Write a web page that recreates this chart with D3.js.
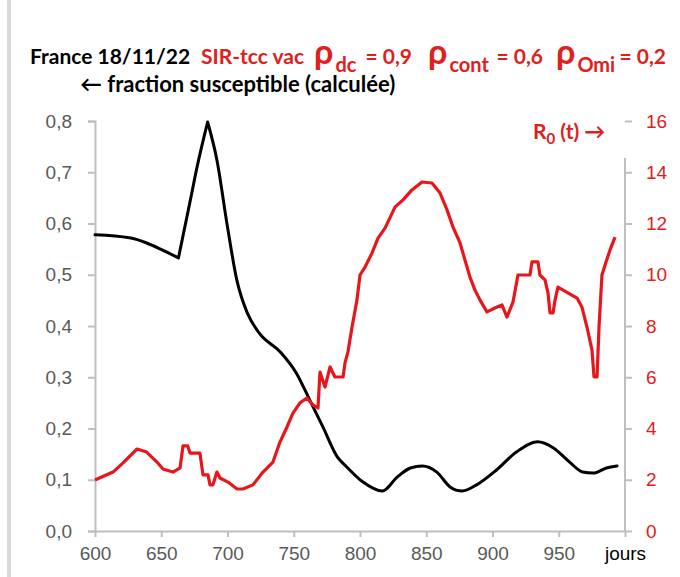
<!DOCTYPE html>
<html>
<head>
<meta charset="utf-8">
<style>
    body { margin: 0; background: #fff; }
    svg { display: block; font-family: Lato, 'Liberation Sans', sans-serif; }
    .axis .domain { stroke: #bfbfbf; stroke-width: 2px; }
    .axis .tick line { stroke: #bfbfbf; stroke-width: 2px; }
    .axis text { font-size: 19px; fill: #595959; }
    .r.axis text { fill: #e0201c; }
</style>
</head>
<body>
<svg class="chart" width="680" height="577"></svg>

<script src="https://d3js.org/d3.v7.min.js"></script>
<script>
    // fraction susceptible (left axis)
    let suscDays = [600, 626, 639, 651, 663, 672, 677, 685, 692, 700, 707, 715, 724, 740, 752, 762, 772, 783, 790, 802, 817, 828, 838, 847, 858, 868, 877, 888, 903, 918, 934, 946, 958, 968, 976, 986, 994]
    let suscValues = [0.578, 0.572, 0.562, 0.548, 0.533, 0.646, 0.71, 0.798, 0.724, 0.593, 0.49, 0.425, 0.386, 0.349, 0.308, 0.256, 0.203, 0.144, 0.125, 0.096, 0.078, 0.105, 0.123, 0.127, 0.115, 0.086, 0.078, 0.09, 0.119, 0.154, 0.174, 0.162, 0.135, 0.115, 0.113, 0.123, 0.127]
    // indexes where the curve has a sharp corner (trough before the jump, peak)
    let suscCorners = [4, 7]

    // R0(t) (right axis)
    let r0Days = [600, 613.6, 621, 631.7, 639, 646.8, 651.3, 658.9, 664.2, 666.4, 670, 671.7, 679.2, 681.5, 685.3, 686.8, 689, 692, 694.3, 700.4, 707.2, 711.7, 719.2, 726.8, 734.3, 739.6, 744.9, 749.4, 754.7, 760, 764.5, 768.3, 769.8, 773.6, 777.4, 781.1, 787.2, 788.7, 790.9, 794, 797.7, 800, 803.8, 809.1, 813.6, 818.9, 826.4, 832.5, 839.2, 846.8, 854.3, 860.4, 865.7, 870.2, 875.5, 879.2, 883, 886.8, 890.6, 895.8, 903.4, 907.2, 910.9, 915.5, 919.2, 928.3, 929.8, 934.3, 935.8, 939.6, 941.9, 943.4, 945.7, 947.2, 949.4, 963.8, 967.5, 971.3, 975.1, 976.6, 978.9, 980.4, 982.6, 985.7, 988.7, 992.5]
    let r0Values = [1.99, 2.3, 2.65, 3.2, 3.08, 2.69, 2.42, 2.3, 2.46, 3.32, 3.32, 3.04, 3.04, 2.19, 2.19, 1.8, 1.8, 2.3, 2.07, 1.91, 1.64, 1.64, 1.8, 2.3, 2.69, 3.47, 4.06, 4.6, 5.0, 5.19, 4.92, 4.8, 6.2, 5.62, 6.4, 6.01, 6.01, 6.56, 6.99, 7.96, 9.01, 9.99, 10.3, 10.85, 11.43, 11.82, 12.64, 12.92, 13.31, 13.62, 13.58, 13.19, 12.53, 11.86, 11.24, 10.58, 9.91, 9.4, 9.01, 8.55, 8.74, 8.82, 8.35, 8.94, 9.99, 9.99, 10.5, 10.5, 9.99, 9.8, 9.29, 8.51, 8.51, 9.01, 9.52, 9.09, 8.74, 7.96, 7.06, 6.01, 6.01, 7.96, 9.99, 10.5, 10.97, 11.47]

    let xTicks = [600, 650, 700, 750, 800, 850, 900, 950, 1000]
    let leftTicks = [0, 0.1, 0.2, 0.3, 0.4, 0.5, 0.6, 0.7, 0.8]
    let rightTicks = [0, 2, 4, 6, 8, 10, 12, 14, 16]

    let red = "#e8161b"
    let redText = "#e0201c"

    let svg = d3.select(".chart")

    let x = d3.scaleLinear().domain([600, 1000]).range([95, 625])
    let yL = d3.scaleLinear().domain([0, 0.8]).range([531, 121])
    let yR = d3.scaleLinear().domain([0, 16]).range([531, 121])

    // left grey frame edge
    svg.append("rect")
        .attr("x", 7).attr("y", 0)
        .attr("width", 4).attr("height", 577)
        .attr("fill", "#d9d9d9")

    let comma = d3.format(".1f")

    svg.append("g")
        .attr("class", "l axis")
        .attr("transform", "translate(95,0)")
        .call(d3.axisLeft(yL).tickValues(leftTicks).tickSize(7).tickPadding(16)
            .tickFormat(d => comma(d).replace(".", ",")))

    let rAxis = svg.append("g")
        .attr("class", "r axis")
        .attr("transform", "translate(625,0)")
        .call(d3.axisRight(yR).tickValues(rightTicks).tickSize(7).tickPadding(14))
    rAxis.select(".domain").remove()
    rAxis.append("line")
        .attr("x1", 0).attr("x2", 0)
        .attr("y1", 158).attr("y2", 531)
        .attr("stroke", "#bfbfbf").attr("stroke-width", 2)

    let xAxis = svg.append("g")
        .attr("class", "x axis")
        .attr("transform", "translate(0,531)")
        .call(d3.axisBottom(x).tickValues(xTicks).tickSize(6).tickPadding(10)
            .tickSizeOuter(0)
            .tickFormat(d => d == 1000 ? "jours" : d))
    xAxis.selectAll(".tick text")
        .filter(d => d == 1000)
        .style("fill", "#000")

    let susc = suscDays.map((d, i) => ({day: d, v: suscValues[i]}))

    let suscLine = d3.line()
        .x(d => x(d.day))
        .y(d => yL(d.v))
        .curve(d3.curveMonotoneX)

    // split into pieces so the trough and the peak keep their sharp corners
    let cuts = [0].concat(suscCorners, [susc.length - 1])
    let suscPath = ""
    for (let k = 0; k < cuts.length - 1; k++) {
        suscPath += suscLine(susc.slice(cuts[k], cuts[k + 1] + 1))
    }

    let r0Line = d3.line()
        .x((d, i) => x(r0Days[i]))
        .y(d => yR(d))

    svg.append("path")
        .attr("d", suscPath)
        .attr("fill", "none")
        .attr("stroke", "#000")
        .attr("stroke-width", 3)
        .attr("stroke-linejoin", "round")
        .attr("stroke-linecap", "round")

    svg.append("path")
        .attr("d", r0Line(r0Values))
        .attr("fill", "none")
        .attr("stroke", red)
        .attr("stroke-width", 3.2)
        .attr("stroke-linejoin", "round")

    // title
    svg.append("text")
        .attr("x", 30).attr("y", 64)
        .attr("font-size", "21px").attr("font-weight", "bold")
        .text("France 18/11/22")

    svg.append("text")
        .attr("x", 201).attr("y", 64)
        .attr("font-size", "21px").attr("font-weight", "bold")
        .attr("fill", redText)
        .text("SIR-tcc vac")

    let rhos = [
        {x: 314, end: 412, sub: "dc", val: "0,9"},
        {x: 428, end: 543, sub: "cont", val: "0,6"},
        {x: 556, end: 666, sub: "Omi", val: "0,2"}
    ]
    rhos.forEach(function(r) {
        let g = svg.append("g")
            .attr("fill", redText)
            .attr("font-weight", "bold")
        let rho = g.append("text").attr("x", r.x).attr("y", 64)
            .attr("font-size", "34px").text("ρ")
        let w = rho.node().getComputedTextLength()
        g.append("text").attr("x", r.x + w + 2).attr("y", 72)
            .attr("font-size", "20px").text(r.sub)
        g.append("text").attr("x", r.end).attr("y", 64)
            .attr("text-anchor", "end")
            .attr("font-size", "21px").text("= " + r.val)
    })

    svg.append("text")
        .attr("x", 80).attr("y", 92)
        .attr("font-size", "22px").attr("font-weight", "bold")
        .text("← fraction susceptible (calculée)")

    let r0Label = svg.append("text")
        .attr("x", 533).attr("y", 139)
        .attr("fill", redText)
        .attr("font-weight", "bold")
        .attr("font-size", "21px")
    r0Label.append("tspan").text("R")
    r0Label.append("tspan").attr("font-size", "15px").attr("dy", 5).text("0")
    r0Label.append("tspan").attr("dy", -5).text(" (t) →")
</script>
</body>
</html>
